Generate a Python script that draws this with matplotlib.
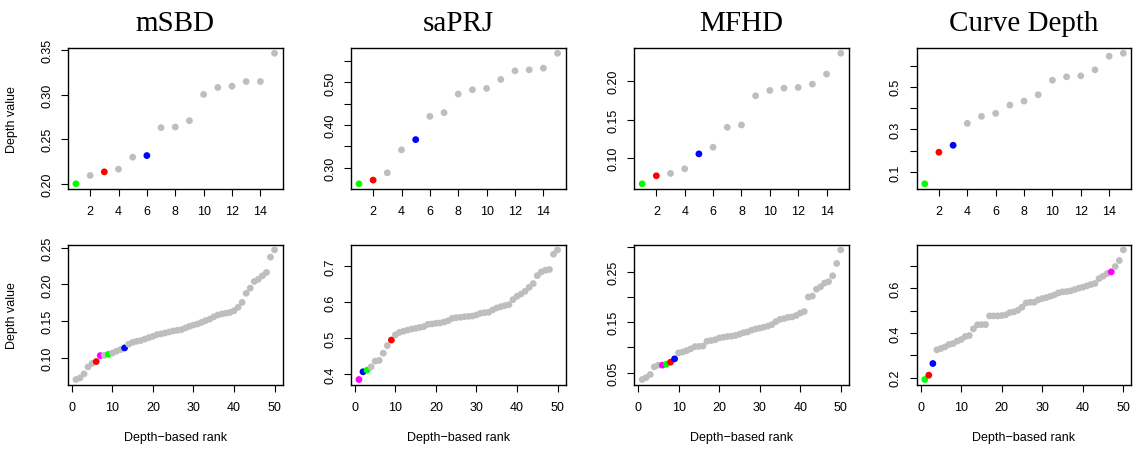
import matplotlib
matplotlib.use("Agg")
import matplotlib.pyplot as plt

plt.rcParams['font.family'] = ['Liberation Sans', 'DejaVu Sans']

# ---------------- data ----------------
methods = ["mSBD", "saPRJ", "MFHD", "Curve Depth"]

top_rank = list(range(1, 16))
bottom_rank = list(range(1, 51))

top_msbd = [0.200, 0.2093, 0.2134, 0.2164, 0.2299, 0.2317, 0.2631, 0.2638, 0.2709,
            0.3004, 0.3082, 0.3097, 0.3149, 0.3149, 0.3467]
top_saprj = [0.2626, 0.2712, 0.2883, 0.3420, 0.3661, 0.4206, 0.4292, 0.4728, 0.4829,
             0.4860, 0.5070, 0.5272, 0.5296, 0.5335, 0.5685]
top_mfhd = [0.0668, 0.0772, 0.0802, 0.0862, 0.1056, 0.1142, 0.1401, 0.1431, 0.1810,
            0.1879, 0.1909, 0.1918, 0.1961, 0.2091, 0.2362]
top_curve = [0.0438, 0.1922, 0.2250, 0.3280, 0.3610, 0.3750, 0.4140, 0.4330, 0.4625,
             0.5310, 0.5470, 0.5516, 0.5800, 0.6440, 0.6580]

bottom_msbd = [0.0712, 0.0734, 0.0788, 0.0883, 0.0930, 0.0955, 0.1036, 0.1040, 0.1054, 0.1070,
               0.1095, 0.1117, 0.1140, 0.1190, 0.1216, 0.1230, 0.1240, 0.1260, 0.1280, 0.1297,
               0.1320, 0.1330, 0.1342, 0.1356, 0.1370, 0.1378, 0.1387, 0.1410, 0.1432, 0.1450,
               0.1464, 0.1486, 0.1510, 0.1530, 0.1560, 0.1586, 0.1600, 0.1610, 0.1620, 0.1644,
               0.1690, 0.1757, 0.1880, 0.1950, 0.2040, 0.2070, 0.2117, 0.2162, 0.2370, 0.2468]
bottom_saprj = [0.3850, 0.4065, 0.4110, 0.4200, 0.4360, 0.4380, 0.4580, 0.4790, 0.4944, 0.5090,
                0.5157, 0.5190, 0.5220, 0.5250, 0.5270, 0.5296, 0.5315, 0.5380, 0.5390, 0.5410,
                0.5417, 0.5444, 0.5480, 0.5546, 0.5565, 0.5574, 0.5590, 0.5600, 0.5610, 0.5640,
                0.5685, 0.5704, 0.5713, 0.5778, 0.5833, 0.5870, 0.5900, 0.5926, 0.6065, 0.6157,
                0.6220, 0.6296, 0.6407, 0.6510, 0.6730, 0.6833, 0.6880, 0.6900, 0.7324, 0.7444]
bottom_mfhd = [0.0361, 0.0400, 0.0460, 0.0612, 0.0646, 0.0646, 0.0665, 0.0705, 0.0771, 0.0890,
               0.0907, 0.0935, 0.0970, 0.1013, 0.1018, 0.1025, 0.1120, 0.1135, 0.1150, 0.1185,
               0.1200, 0.1213, 0.1220, 0.1235, 0.1260, 0.1290, 0.1305, 0.1340, 0.1365, 0.1380,
               0.1400, 0.1420, 0.1450, 0.1510, 0.1555, 0.1570, 0.1595, 0.1603, 0.1630, 0.1680,
               0.1710, 0.1998, 0.2017, 0.2153, 0.2200, 0.2275, 0.2303, 0.2420, 0.2665, 0.2934]
bottom_curve = [0.1910, 0.2104, 0.2627, 0.3240, 0.3300, 0.3370, 0.3480, 0.3520, 0.3630, 0.3700,
                0.3836, 0.3880, 0.4180, 0.4360, 0.4370, 0.4370, 0.4760, 0.4760, 0.4760, 0.4776,
                0.4806, 0.4910, 0.4940, 0.5015, 0.5150, 0.5340, 0.5370, 0.5370, 0.5478, 0.5537,
                0.5580, 0.5640, 0.5700, 0.5790, 0.5836, 0.5850, 0.5880, 0.5940, 0.6000, 0.6045,
                0.6104, 0.6164, 0.6210, 0.6430, 0.6537, 0.6657, 0.6730, 0.6970, 0.7240, 0.7716]

# highlighted ranks: (green, red, blue, magenta)
top_green = [1, 1, 1, 1]
top_red = [3, 2, 2, 2]
top_blue = [6, 5, 5, 3]
bottom_green = [9, 3, 7, 1]
bottom_red = [6, 9, 8, 2]
bottom_blue = [13, 2, 9, 3]
bottom_magenta = [7, 1, 6, 47]

top_xticks = [2, 4, 6, 8, 10, 12, 14]
bottom_xticks = [0, 10, 20, 30, 40, 50]

top_yticks = [[0.20, 0.25, 0.30, 0.35],
              [0.30, 0.35, 0.40, 0.45, 0.50, 0.55],
              [0.10, 0.15, 0.20],
              [0.1, 0.2, 0.3, 0.4, 0.5, 0.6]]
top_ylabels = [["0.20", "0.25", "0.30", "0.35"],
               ["0.30", "", "0.40", "", "0.50", ""],
               ["0.10", "0.15", "0.20"],
               ["0.1", "", "0.3", "", "0.5", ""]]
bottom_yticks = [[0.10, 0.15, 0.20, 0.25],
                 [0.4, 0.5, 0.6, 0.7],
                 [0.05, 0.10, 0.15, 0.20, 0.25, 0.30],
                 [0.2, 0.3, 0.4, 0.5, 0.6, 0.7]]
bottom_ylabels = [["0.10", "0.15", "0.20", "0.25"],
                  ["0.4", "0.5", "0.6", "0.7"],
                  ["0.05", "", "0.15", "", "0.25", ""],
                  ["0.2", "", "0.4", "", "0.6", ""]]

top_values = [top_msbd, top_saprj, top_mfhd, top_curve]
bottom_values = [bottom_msbd, bottom_saprj, bottom_mfhd, bottom_curve]

# ---------------- style / layout ----------------
W, H = 1133, 452
fig = plt.figure(figsize=(W / 100, H / 100), dpi=100)

GRAY = "#BEBEBE"
COLS = {"green": "#00FF00", "red": "#FF0000", "blue": "#0000FF", "magenta": "#FF00FF"}
lefts = [68, 351, 634.2, 916.8]
width = 214.5
rows = [(49, 190), (245.7, 385.7)]


def rlim(v):
    lo, hi = min(v), max(v)
    r = hi - lo
    return lo - 0.04 * r, hi + 0.04 * r


def make_ax(left, top, bottom):
    return fig.add_axes([left / W, 1 - bottom / H, width / W, (bottom - top) / H])


def style(ax):
    for s in ax.spines.values():
        s.set_linewidth(1.0)
        s.set_color("black")
    ax.tick_params(direction="out", length=5.2, width=0.8, labelsize=9, colors="black")
    ax.tick_params(axis="x", pad=6.5)
    ax.tick_params(axis="y", pad=5.5)
    for lab in ax.get_yticklabels():
        lab.set_rotation(90)
        lab.set_va("center")


for i, name in enumerate(methods):
    # top row
    ax = make_ax(lefts[i], rows[0][0], rows[0][1])
    cols = []
    for r in top_rank:
        c = GRAY
        if r == top_green[i]:
            c = COLS["green"]
        elif r == top_red[i]:
            c = COLS["red"]
        elif r == top_blue[i]:
            c = COLS["blue"]
        cols.append(c)
    ax.scatter(top_rank, top_values[i], c=cols, s=24, linewidths=0, zorder=3)
    ax.set_xlim(*rlim(top_rank))
    ax.set_ylim(*rlim(top_values[i]))
    ax.set_xticks(top_xticks)
    ax.set_xticklabels([str(t) for t in top_xticks])
    ax.set_yticks(top_yticks[i])
    ax.set_yticklabels(top_ylabels[i])
    style(ax)
    if i == 0:
        ax.set_ylabel("Depth value", fontsize=9)
        ax.yaxis.set_label_coords(-0.233, 0.5)
    cx = (lefts[i] + width / 2) / W
    fig.text(cx, 1 - 31 / H, name, ha="center", va="baseline", fontsize=21,
             family=["Liberation Serif", "DejaVu Serif"])

    # bottom row
    ax = make_ax(lefts[i], rows[1][0], rows[1][1])
    cols = []
    for r in bottom_rank:
        c = GRAY
        if r == bottom_green[i]:
            c = COLS["green"]
        elif r == bottom_red[i]:
            c = COLS["red"]
        elif r == bottom_blue[i]:
            c = COLS["blue"]
        elif r == bottom_magenta[i]:
            c = COLS["magenta"]
        cols.append(c)
    ax.scatter(bottom_rank, bottom_values[i], c=cols, s=24, linewidths=0, zorder=3)
    ax.set_xlim(*rlim(bottom_rank))
    ax.set_ylim(*rlim(bottom_values[i]))
    ax.set_xticks(bottom_xticks)
    ax.set_xticklabels([str(t) for t in bottom_xticks])
    ax.set_yticks(bottom_yticks[i])
    ax.set_yticklabels(bottom_ylabels[i])
    style(ax)
    ax.set_xlabel("Depth\u2212based rank", fontsize=9)
    ax.xaxis.set_label_coords(0.5, -0.33)
    if i == 0:
        ax.set_ylabel("Depth value", fontsize=9)
        ax.yaxis.set_label_coords(-0.233, 0.5)

fig.savefig("out.png", dpi=100)
